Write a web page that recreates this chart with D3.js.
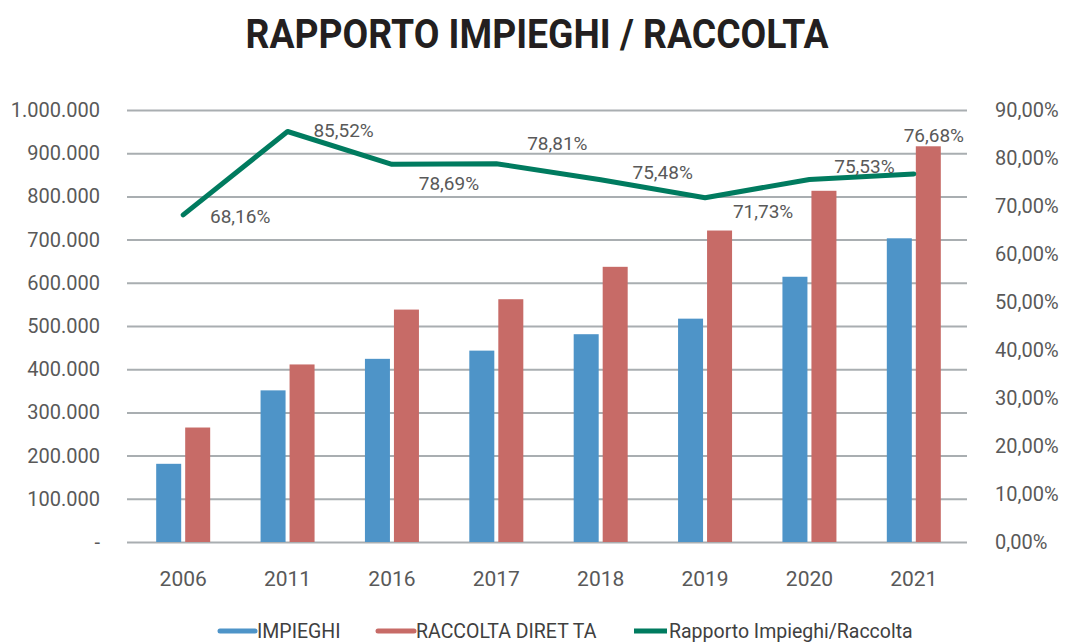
<!DOCTYPE html>
<html>
<head>
<meta charset="utf-8">
<script src="https://cdn.jsdelivr.net/npm/d3@7"></script>
<style>
  body { margin: 0; background: #fff; }
  svg { display: block; font-family: Roboto, "Noto Sans", sans-serif; }
</style>
</head>
<body>
<script>
// Chart values
const years = ["2006", "2011", "2016", "2017", "2018", "2019", "2020", "2021"];
const impieghi = [181000, 351000, 424000, 443000, 481000, 517000, 614000, 703000];
const raccolta = [265000, 411000, 538000, 562000, 637000, 721000, 813000, 916000];
const rapporto = [0.6816, 0.8552, 0.7869, 0.7881, 0.7548, 0.7173, 0.7553, 0.7668];
const seriesNames = ["IMPIEGHI", "RACCOLTA DIRET TA", "Rapporto Impieghi/Raccolta"];
const leftTicks = d3.range(0, 1000001, 100000);
const rightTicks = d3.range(0, 0.91, 0.1);

// Where each data label sits relative to its point (Excel moved them by hand)
const labelOffsets = [[57, 2], [56, -1], [57, 19], [61, -20], [62, -7], [58, 14], [55, -13], [20, -39]];

const colors = { blue: "#4e94c8", red: "#c76b67", green: "#007b5f", grid: "#a9aeb1", text: "#595959" };

const width = 1069, height = 642;
const plot = { left: 127, right: 967, top: 110, bottom: 542 };

const it = d3.formatLocale({ decimal: ",", thousands: ".", grouping: [3], currency: ["€", ""] });
const fmtNum = it.format(",");
const fmtPct = it.format(".2%");

const svg = d3.select("body").append("svg")
    .attr("width", width)
    .attr("height", height);

// Title
svg.append("text")
    .attr("x", 537)
    .attr("y", 48)
    .attr("text-anchor", "middle")
    .attr("font-weight", "bold")
    .attr("font-size", 41)
    .attr("fill", "#231f20")
    .attr("textLength", 583)
    .attr("lengthAdjust", "spacingAndGlyphs")
    .text("RAPPORTO IMPIEGHI / RACCOLTA");

// Scales
let x = d3.scaleBand().domain(years).range([131, 966]);
let xInner = d3.scaleBand().domain([0, 1]).range([0, 54]).paddingInner(0.138);
let y = d3.scaleLinear().domain([0, 1000000]).range([plot.bottom, plot.top]);
let y2 = d3.scaleLinear().domain([0, 0.9]).range([plot.bottom, plot.top]);

// Left axis + gridlines
let gy = svg.append("g")
    .attr("transform", "translate(" + plot.left + ",0)")
    .call(d3.axisLeft(y)
      .tickValues(leftTicks)
      .tickSize(-(plot.right - plot.left))
      .tickPadding(27)
      .tickFormat(function(d) { return d === 0 ? "-" : fmtNum(d); }));
gy.select(".domain").remove();
gy.selectAll(".tick line").attr("stroke", colors.grid).attr("stroke-width", 2);
gy.selectAll(".tick text")
    .attr("fill", colors.text)
    .attr("font-size", 20)
    .attr("font-family", "Roboto");

// Right axis
let gy2 = svg.append("g")
    .attr("transform", "translate(" + plot.right + ",0)")
    .call(d3.axisRight(y2).tickValues(rightTicks).tickSize(0).tickPadding(28).tickFormat(fmtPct));
gy2.select(".domain").remove();
gy2.selectAll(".tick text")
    .attr("fill", colors.text)
    .attr("font-size", 20)
    .attr("font-family", "Roboto");

// Bottom axis
let gx = svg.append("g")
    .attr("transform", "translate(0," + plot.bottom + ")")
    .call(d3.axisBottom(x).tickSize(0).tickPadding(29));
gx.select(".domain").remove();
gx.selectAll(".tick text")
    .attr("fill", colors.text)
    .attr("font-size", 21)
    .attr("font-family", "Roboto");

// Bars
let groups = svg.append("g").selectAll("g")
    .data(years)
  .enter().append("g")
    .attr("transform", function(d) { return "translate(" + (x(d) + x.bandwidth() / 2 - 27) + ",0)"; });

groups.append("rect")
    .attr("x", xInner(0))
    .attr("width", xInner.bandwidth())
    .attr("y", function(d, i) { return y(impieghi[i]); })
    .attr("height", function(d, i) { return plot.bottom - y(impieghi[i]); })
    .attr("fill", colors.blue);

groups.append("rect")
    .attr("x", xInner(1))
    .attr("width", xInner.bandwidth())
    .attr("y", function(d, i) { return y(raccolta[i]); })
    .attr("height", function(d, i) { return plot.bottom - y(raccolta[i]); })
    .attr("fill", colors.red);

// Ratio line
let line = d3.line()
    .x(function(d, i) { return x(years[i]) + x.bandwidth() / 2; })
    .y(function(d) { return y2(d); });

svg.append("path")
    .datum(rapporto)
    .attr("fill", "none")
    .attr("stroke", colors.green)
    .attr("stroke-width", 5)
    .attr("stroke-linejoin", "round")
    .attr("stroke-linecap", "round")
    .attr("d", line);

// Data labels
svg.append("g").selectAll("text")
    .data(rapporto)
  .enter().append("text")
    .attr("x", function(d, i) { return x(years[i]) + x.bandwidth() / 2 + labelOffsets[i][0]; })
    .attr("y", function(d, i) { return y2(d) + labelOffsets[i][1]; })
    .attr("dy", "0.35em")
    .attr("text-anchor", "middle")
    .attr("font-size", 19)
    .attr("fill", colors.text)
    .text(fmtPct);

// Legend
let legendItems = [
  { name: seriesNames[0], color: colors.blue, x: 220, len: 35, cap: "round" },
  { name: seriesNames[1], color: colors.red, x: 378, len: 36, cap: "round" },
  { name: seriesNames[2], color: colors.green, x: 634, len: 33, cap: "butt" }
];
let legend = svg.append("g").selectAll("g")
    .data(legendItems)
  .enter().append("g")
    .attr("transform", function(d) { return "translate(" + d.x + ",631)"; });

legend.append("line")
    .attr("x1", 0)
    .attr("x2", function(d) { return d.len; })
    .attr("stroke", function(d) { return d.color; })
    .attr("stroke-width", 5)
    .attr("stroke-linecap", function(d) { return d.cap; });

legend.append("text")
    .attr("x", function(d) { return d.len + 2; })
    .attr("dy", "0.36em")
    .attr("font-size", 19.5)
    .attr("fill", "#404040")
    .text(function(d) { return d.name; });
</script>
</body>
</html>
